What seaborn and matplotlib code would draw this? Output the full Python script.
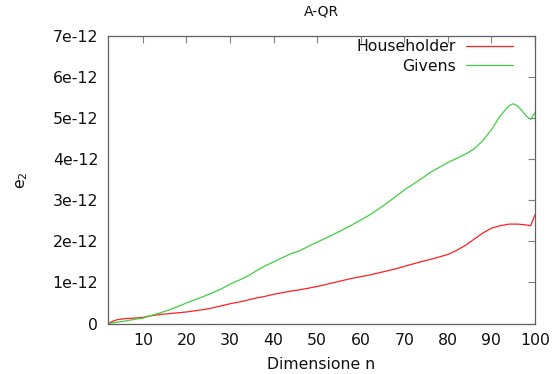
import numpy as np
import pandas as pd
import matplotlib
matplotlib.use("Agg")
import matplotlib.pyplot as plt
import seaborn as sns

# ---- data, values in units of 1e-12 ----
n_householder = [2, 3, 4, 6, 8, 10, 12, 14, 16, 18, 20, 22, 24, 26, 28, 30, 32, 34, 36, 38,
                 40, 42, 44, 46, 48, 50, 52, 54, 56, 58, 60, 62, 64, 66, 68, 70, 72, 74, 76, 78,
                 80, 82, 84, 86, 88, 90, 92, 94, 96, 98, 99, 100]
e_householder = [0.0, 0.05, 0.09, 0.12, 0.13, 0.15, 0.19, 0.22, 0.24, 0.26, 0.28, 0.31, 0.34, 0.38,
                 0.43, 0.48, 0.52, 0.57, 0.62, 0.66, 0.71, 0.75, 0.79, 0.82, 0.86, 0.90, 0.95, 1.00,
                 1.05, 1.10, 1.14, 1.18, 1.23, 1.28, 1.33, 1.39, 1.45, 1.51, 1.56, 1.62, 1.68, 1.78,
                 1.90, 2.05, 2.20, 2.32, 2.38, 2.42, 2.42, 2.40, 2.38, 2.65]

n_givens = [2, 4, 6, 8, 10, 12, 14, 16, 18, 20, 22, 24, 26, 28, 30, 32, 34, 36, 38, 40,
            42, 44, 46, 48, 50, 52, 54, 56, 58, 60, 62, 64, 66, 68, 70, 72, 74, 76, 78, 80,
            82, 84, 86, 88, 90, 92, 94, 95, 96, 97, 98, 99, 100]
e_givens = [0.0, 0.03, 0.06, 0.10, 0.13, 0.20, 0.26, 0.33, 0.41, 0.50, 0.58, 0.66, 0.75, 0.84,
            0.96, 1.05, 1.15, 1.28, 1.40, 1.50, 1.60, 1.70, 1.77, 1.88, 1.98, 2.08, 2.18, 2.29,
            2.40, 2.52, 2.64, 2.78, 2.93, 3.09, 3.25, 3.39, 3.53, 3.68, 3.80, 3.92, 4.02, 4.12,
            4.25, 4.45, 4.72, 5.05, 5.30, 5.35, 5.30, 5.18, 5.05, 4.97, 5.13]

series_names = ["Householder", "Givens"]
series_colors = ["#ff2020", "#40d040"]
scale = 1e-12

x_ticks = [10, 20, 30, 40, 50, 60, 70, 80, 90, 100]
y_ticks = [0, 1, 2, 3, 4, 5, 6, 7]
y_tick_labels = ["0", "1e-12", "2e-12", "3e-12", "4e-12", "5e-12", "6e-12", "7e-12"]

df = pd.concat([
    pd.DataFrame({"n": n_householder, "e2": np.array(e_householder) * scale, "metodo": series_names[0]}),
    pd.DataFrame({"n": n_givens, "e2": np.array(e_givens) * scale, "metodo": series_names[1]}),
], ignore_index=True)

sns.set_style("white")
plt.rcParams["font.family"] = ["DejaVu Sans"]
plt.rcParams["text.color"] = "#111111"
plt.rcParams["axes.labelcolor"] = "#111111"
plt.rcParams["xtick.color"] = "#111111"
plt.rcParams["ytick.color"] = "#111111"

fs = 11.3
fig = plt.figure(figsize=(5.59, 3.74), dpi=100)
ax = fig.add_axes([108 / 559, 1 - 323.5 / 374, (535 - 108) / 559, (323.5 - 36) / 374])

sns.lineplot(data=df, x="n", y="e2", hue="metodo", palette=dict(zip(series_names, series_colors)),
             linewidth=0.9, ax=ax, sort=False, estimator=None)

ax.set_xlim(2, 100)
ax.set_ylim(0, 7 * scale)
ax.set_xticks(x_ticks)
ax.set_yticks([v * scale for v in y_ticks])
ax.set_yticklabels(y_tick_labels)
ax.tick_params(direction="in", length=5, width=0.8, labelsize=fs,
               top=True, right=True, pad=7)
ax.tick_params(which="both", color="#808080")
for s in ax.spines.values():
    s.set_color("#606060")
    s.set_linewidth(0.9)

ax.set_xlabel("Dimensione n", fontsize=fs, labelpad=6)
ax.set_ylabel(r"e$_2$", fontsize=fs, labelpad=16)
ax.set_title("A-QR", fontsize=10, pad=15)

leg = ax.legend(loc="upper right", bbox_to_anchor=(1 - 19 / 427, 1.0), frameon=False,
                fontsize=fs, markerfirst=False, handlelength=3.0, labelspacing=0.3,
                borderaxespad=0.0, handletextpad=0.65, borderpad=0.2)

fig.savefig("out.png", dpi=100)
